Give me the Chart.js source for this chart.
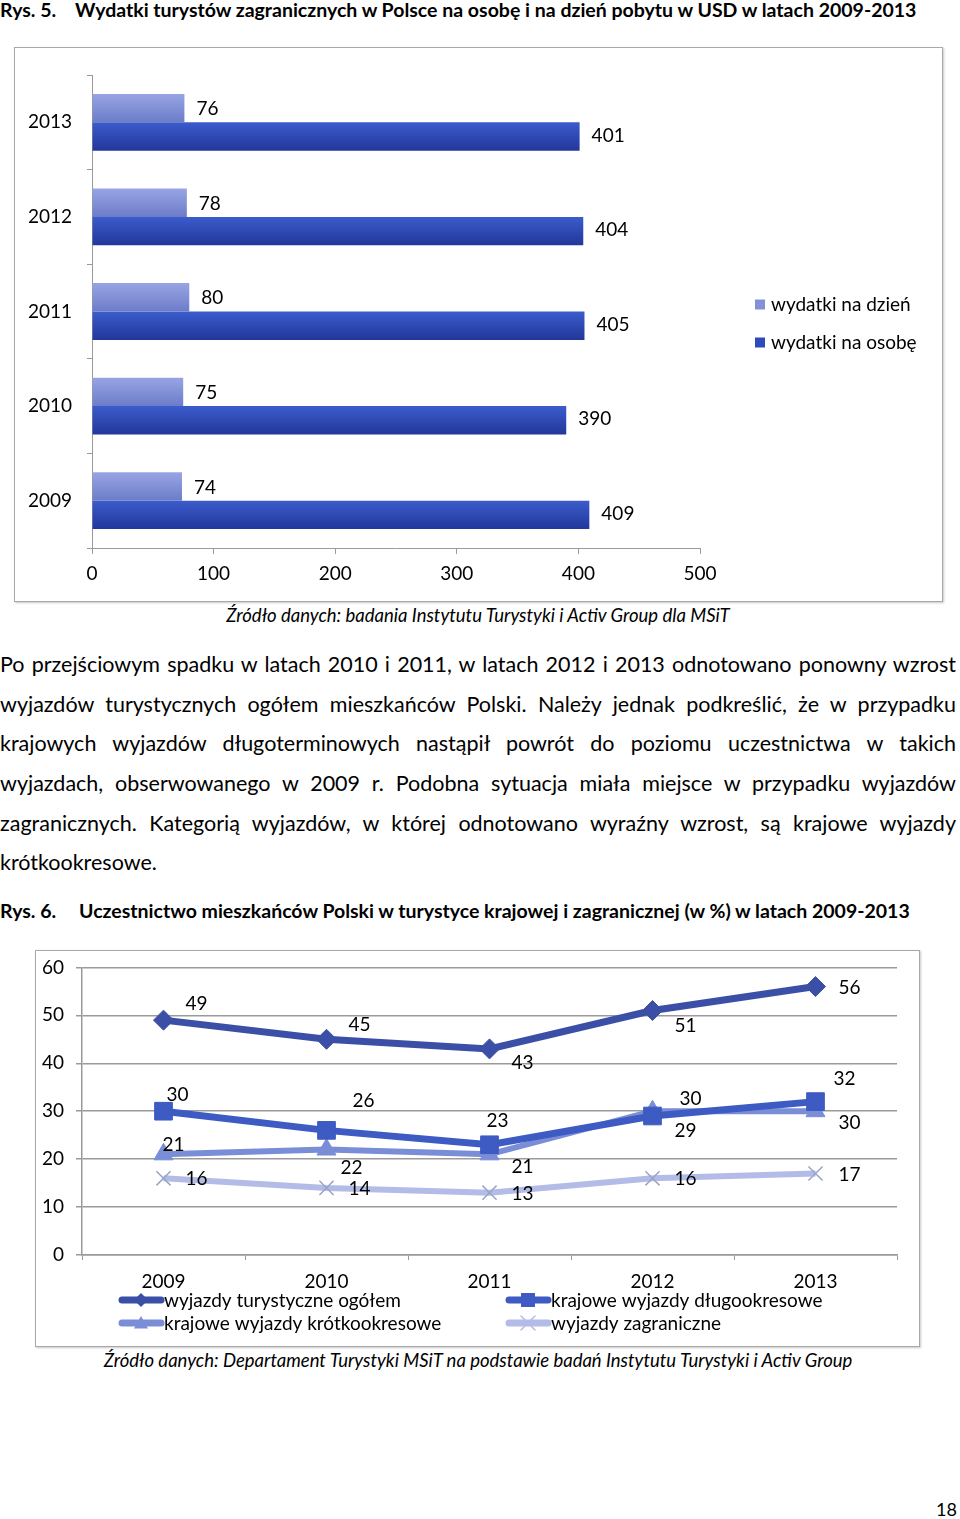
<!DOCTYPE html>
<html lang="pl">
<head>
<meta charset="utf-8">
<script src="https://cdn.jsdelivr.net/npm/chart.js@4/dist/chart.umd.min.js"></script>
<style>
  html, body { margin: 0; padding: 0; background: #fff; }
  body { width: 960px; height: 1519px; position: relative; overflow: hidden; font-family: Lato, "Open Sans", sans-serif; color: #000; }
  .abs { position: absolute; white-space: nowrap; }
  .title { font-weight: bold; font-size: 19.5px; line-height: 20px; }
  .box { position: absolute; border: 1px solid #a8a8a8; box-shadow: 1px 1px 2px #c8c8c8; box-sizing: border-box; background: #fff; }
  .box canvas { position: absolute; left: 0; top: 0; }
  .src { font-style: italic; font-size: 18.5px; line-height: 20px; width: 960px; text-align: center; left: -2px; }
  .para { position: absolute; left: 0; width: 956px; font-size: 21.5px; line-height: 24px; white-space: nowrap; text-align: justify; text-align-last: justify; }
  .para.last { text-align-last: left; }
</style>
</head>
<body>

<div class="abs title" style="left:0;top:0;">Rys. 5.</div>
<div class="abs title" style="left:75px;top:0;">Wydatki turystów zagranicznych w Polsce na osobę i na dzień pobytu w USD w latach 2009-2013</div>

<div class="box" style="left:14px;top:47px;width:929px;height:555px;">
  <canvas id="c1" width="927" height="553"></canvas>
</div>
<div class="abs src" style="top:605px;">Źródło danych: badania Instytutu Turystyki i Activ Group dla MSiT</div>

<div class="para" style="top:652px;">Po przejściowym spadku w latach 2010 i 2011, w latach 2012 i 2013 odnotowano ponowny wzrost</div>
<div class="para" style="top:692px;">wyjazdów turystycznych ogółem mieszkańców Polski. Należy jednak podkreślić, że w przypadku</div>
<div class="para" style="top:731px;">krajowych wyjazdów długoterminowych nastąpił powrót do poziomu uczestnictwa w takich</div>
<div class="para" style="top:771px;">wyjazdach, obserwowanego w 2009 r. Podobna sytuacja miała miejsce w przypadku wyjazdów</div>
<div class="para" style="top:811px;">zagranicznych. Kategorią wyjazdów, w której odnotowano wyraźny wzrost, są krajowe wyjazdy</div>
<div class="para last" style="top:850px;">krótkookresowe.</div>

<div class="abs title" style="left:0;top:901px;">Rys. 6.</div>
<div class="abs title" style="left:79px;top:901px;">Uczestnictwo mieszkańców Polski w turystyce krajowej i zagranicznej (w %) w latach 2009-2013</div>

<div class="box" style="left:35px;top:950px;width:885px;height:397px;">
  <canvas id="c2" width="883" height="402" style="top:-7px;"></canvas>
</div>
<div class="abs src" style="top:1350px;">Źródło danych: Departament Turystyki MSiT na podstawie badań Instytutu Turystyki i Activ Group</div>

<div class="abs" style="right:3px;top:1498px;font-size:18px;line-height:22px;">18</div>

<script>
// ---------- Data: chart 1 ----------
const barYears = ['2013', '2012', '2011', '2010', '2009'];
const perDay = [76, 78, 80, 75, 74];
const perPerson = [401, 404, 405, 390, 409];
const barSeriesNames = ['wydatki na dzień', 'wydatki na osobę'];
const barTicks = [0, 100, 200, 300, 400, 500];

// ---------- Data: chart 2 ----------
const lineYears = ['2009', '2010', '2011', '2012', '2013'];
const tripsTotal = [49, 45, 43, 51, 56];
const domesticLong = [30, 26, 23, 29, 32];
const domesticShort = [21, 22, 21, 30, 30];
const tripsAbroad = [16, 14, 13, 16, 17];
const lineSeriesNames = ['wyjazdy turystyczne ogółem', 'krajowe wyjazdy długookresowe', 'krajowe wyjazdy krótkookresowe', 'wyjazdy zagraniczne'];
const lineTicks = [0, 10, 20, 30, 40, 50, 60];

const FONT = 'Lato, "Open Sans", sans-serif';
const AXIS_GRAY = '#9a9a9a';

// ---------- Chart 1 ----------
const barStyles = [
  { top: '#98a4e3', bottom: '#6c7cc9', solid: '#8290d8' },
  { top: '#3b5ccc', bottom: '#22379a', solid: '#2e4bbb' }
];
const CAT_PCT = 0.6;
function barFill(ds) {
  return function (c) {
    const ch = c.chart, ys = ch.scales.y;
    if (!ys || c.dataIndex === undefined || !ys.height) return barStyles[ds].solid;
    const center = ys.getPixelForValue(c.dataIndex);
    const th = (ys.height / barYears.length) * CAT_PCT / 2;
    const top = ds === 0 ? center - th : center;
    const g = ch.ctx.createLinearGradient(0, top, 0, top + th);
    g.addColorStop(0, barStyles[ds].top);
    g.addColorStop(1, barStyles[ds].bottom);
    return g;
  };
}

const barLabelPlugin = {
  id: 'barLabels',
  afterDatasetsDraw(chart) {
    const ctx = chart.ctx;
    ctx.save();
    ctx.font = '19px ' + FONT;
    ctx.fillStyle = '#000';
    ctx.textAlign = 'left';
    ctx.textBaseline = 'middle';
    chart.data.datasets.forEach((ds, di) => {
      chart.getDatasetMeta(di).data.forEach((el, i) => {
        ctx.fillText(String(ds.data[i]), el.x + 12, el.y + (di === 0 ? 1 : -1));
      });
    });
    ctx.restore();
  }
};

const barLegendPlugin = {
  id: 'barLegend',
  afterDraw(chart) {
    const ctx = chart.ctx, ca = chart.chartArea;
    const cy = (ca.top + ca.bottom) / 2;
    const x0 = ca.right + 55;
    ctx.save();
    ctx.font = '19px ' + FONT;
    ctx.textBaseline = 'middle';
    ctx.textAlign = 'left';
    chart.data.datasets.forEach((ds, i) => {
      const y = cy - 7 + i * 38;
      ctx.fillStyle = barStyles[i].solid;
      ctx.fillRect(x0, y - 5, 10, 10);
      ctx.fillStyle = '#000';
      ctx.fillText(ds.label, x0 + 16, y);
    });
    ctx.restore();
  }
};

new Chart(document.getElementById('c1'), {
  type: 'bar',
  data: {
    labels: barYears,
    datasets: [
      { label: barSeriesNames[0], data: perDay, backgroundColor: barFill(0), borderWidth: 0 },
      { label: barSeriesNames[1], data: perPerson, backgroundColor: barFill(1), borderWidth: 0 }
    ]
  },
  options: {
    indexAxis: 'y',
    responsive: false,
    animation: false,
    datasets: { bar: { categoryPercentage: CAT_PCT, barPercentage: 1 } },
    layout: { padding: { top: 27, right: 242, bottom: 0, left: 0 } },
    plugins: { legend: { display: false }, tooltip: { enabled: false } },
    scales: {
      x: {
        min: barTicks[0], max: barTicks[barTicks.length - 1],
        afterBuildTicks(s) { s.ticks = barTicks.map(v => ({ value: v })); },
        afterFit(s) { s.height = 53; },
        grid: { drawOnChartArea: false, drawTicks: true, tickLength: 6, color: AXIS_GRAY },
        border: { color: AXIS_GRAY, width: 1 },
        ticks: { color: '#000', font: { size: 19, family: FONT }, padding: 8 }
      },
      y: {
        afterFit(s) { s.width = 77; },
        grid: { drawOnChartArea: false, drawTicks: true, tickLength: 5, offset: true, color: AXIS_GRAY },
        border: { color: AXIS_GRAY, width: 1 },
        ticks: { color: '#000', font: { size: 19, family: FONT }, padding: 15 }
      }
    }
  },
  plugins: [barLabelPlugin, barLegendPlugin]
});

// ---------- Chart 2 ----------
const lineStyles = [
  { color: '#3b4fa6', point: 'rectRot', radius: 10, width: 7 },
  { color: '#3d5bc2', point: 'rect', radius: 12.5, width: 7 },
  { color: '#7a8ed8', point: 'triangle', radius: 11, width: 6 },
  { color: '#b3bce6', point: 'crossRot', radius: 10, width: 6 }
];
// label offsets (text centre relative to point), per series
const lineLabelOffsets = [
  [[33, -17], [33, -15], [33, 13], [33, 14], [34, 0]],
  [[14, -17], [37, -30], [8, -25], [33, 14], [29, -24]],
  [[10, -10], [25, 17], [33, 12], [38, -13], [34, 11]],
  [[33, 0], [33, 0], [33, 0], [33, 0], [34, 0]]
];

const lineLabelPlugin = {
  id: 'lineLabels',
  afterDatasetsDraw(chart) {
    const ctx = chart.ctx;
    ctx.save();
    ctx.font = '19px ' + FONT;
    ctx.fillStyle = '#000';
    ctx.textAlign = 'center';
    ctx.textBaseline = 'middle';
    chart.data.datasets.forEach((ds, di) => {
      chart.getDatasetMeta(di).data.forEach((el, i) => {
        const o = lineLabelOffsets[di][i];
        ctx.fillText(String(ds.data[i]), el.x + o[0], el.y + o[1] + 1);
      });
    });
    ctx.restore();
  }
};

function drawMarker(ctx, style, x, y, r, color) {
  ctx.save();
  ctx.fillStyle = color; ctx.strokeStyle = color;
  ctx.beginPath();
  if (style === 'rectRot') {
    ctx.moveTo(x, y - r); ctx.lineTo(x + r, y); ctx.lineTo(x, y + r); ctx.lineTo(x - r, y); ctx.closePath(); ctx.fill();
  } else if (style === 'rect') {
    ctx.rect(x - r, y - r, 2 * r, 2 * r); ctx.fill();
  } else if (style === 'triangle') {
    ctx.moveTo(x, y - r); ctx.lineTo(x + r, y + r * 0.8); ctx.lineTo(x - r, y + r * 0.8); ctx.closePath(); ctx.fill();
  } else {
    ctx.lineWidth = 1.5;
    ctx.moveTo(x - r, y - r); ctx.lineTo(x + r, y + r); ctx.moveTo(x + r, y - r); ctx.lineTo(x - r, y + r); ctx.stroke();
  }
  ctx.restore();
}

const lineLegendPlugin = {
  id: 'lineLegend',
  afterDraw(chart) {
    const ctx = chart.ctx, ca = chart.chartArea;
    const cols = [ca.left + 37, ca.left + 424];
    const rows = [ca.bottom + 45, ca.bottom + 68];
    ctx.save();
    ctx.font = '19px ' + FONT;
    ctx.textBaseline = 'middle';
    ctx.textAlign = 'left';
    chart.data.datasets.forEach((ds, i) => {
      const x = cols[i % 2], y = rows[Math.floor(i / 2)];
      const st = lineStyles[i];
      ctx.strokeStyle = st.color;
      ctx.lineWidth = 7;
      ctx.lineCap = 'round';
      ctx.beginPath(); ctx.moveTo(x + 3, y); ctx.lineTo(x + 42, y); ctx.stroke();
      drawMarker(ctx, st.point, x + 22, y, 7, st.color);
      ctx.fillStyle = '#000';
      ctx.fillText(ds.label, x + 45, y + 1);
    });
    ctx.restore();
  }
};

const lineSeries = [tripsTotal, domesticLong, domesticShort, tripsAbroad];
new Chart(document.getElementById('c2'), {
  type: 'line',
  data: {
    labels: lineYears,
    datasets: lineSeries.map((d, i) => ({
      label: lineSeriesNames[i],
      data: d,
      borderColor: lineStyles[i].color,
      backgroundColor: lineStyles[i].color,
      borderWidth: lineStyles[i].width,
      pointStyle: lineStyles[i].point,
      pointRadius: lineStyles[i].radius,
      pointBorderWidth: lineStyles[i].point === 'crossRot' ? 1.5 : 1,
      pointBorderColor: lineStyles[i].point === 'crossRot' ? '#9aa3c8' : lineStyles[i].color,
      tension: 0,
      fill: false
    }))
  },
  options: {
    responsive: false,
    animation: false,
    layout: { padding: { top: 8, right: 22, bottom: 0, left: 0 } },
    plugins: { legend: { display: false }, tooltip: { enabled: false } },
    scales: {
      x: {
        offset: true,
        afterFit(s) { s.height = 91; },
        grid: { offset: true, drawOnChartArea: false, drawTicks: true, tickLength: 5, color: AXIS_GRAY },
        border: { color: AXIS_GRAY, width: 1.5 },
        ticks: { color: '#000', font: { size: 19, family: FONT }, padding: 10 }
      },
      y: {
        min: lineTicks[0], max: lineTicks[lineTicks.length - 1],
        afterBuildTicks(s) { s.ticks = lineTicks.map(v => ({ value: v })); },
        afterFit(s) { s.width = 46; },
        grid: { color: AXIS_GRAY, lineWidth: 1.5, tickLength: 6 },
        border: { color: AXIS_GRAY, width: 1.5 },
        ticks: { color: '#000', font: { size: 19, family: FONT }, padding: 12 }
      }
    }
  },
  plugins: [lineLabelPlugin, lineLegendPlugin]
});
</script>
</body>
</html>
